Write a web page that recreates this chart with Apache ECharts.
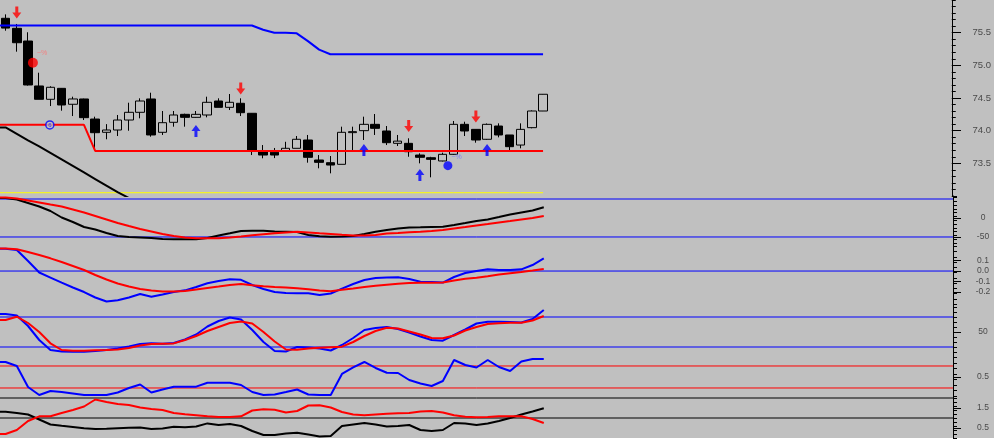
<!DOCTYPE html>
<html><head><meta charset="utf-8">
<script src="https://cdn.jsdelivr.net/npm/echarts@6/dist/echarts.min.js"></script>
<style>html,body{margin:0;padding:0;background:#fff}#c{width:994px;height:448px}</style>
</head><body><div id="c"></div>
<script>
// ---------- price panel data ----------
const opens  = [75.72,75.567,75.372,74.684,74.48,74.648,74.404,74.485,74.178,73.975,74.01,74.163,74.281,74.485,73.975,74.128,74.25,74.204,74.24,74.454,74.357,74.419,74.266,73.678,73.67,73.693,73.73,73.857,73.551,73.51,73.485,73.97,74.0,74.097,73.995,73.806,73.806,73.627,73.586,73.536,73.638,74.097,74.02,73.868,74.071,73.934,73.78,74.046,74.301];
const closes = [75.57,75.346,74.699,74.48,74.664,74.393,74.485,74.199,73.969,74.01,74.163,74.281,74.454,73.934,74.122,74.24,74.204,74.25,74.434,74.357,74.434,74.275,73.704,73.627,73.627,73.73,73.868,73.592,73.515,73.474,73.975,73.985,74.097,74.036,73.816,73.84,73.678,73.592,73.561,73.638,74.097,73.995,73.857,74.097,73.934,73.755,74.02,74.301,74.557];
const lows   = [75.53,75.209,74.69,74.48,74.377,74.306,74.224,74.163,73.73,73.868,73.918,73.999,74.189,73.908,73.934,74.061,74.061,74.2,74.204,74.357,74.316,74.224,73.627,73.577,73.58,73.69,73.73,73.51,73.424,73.347,73.485,73.704,73.857,73.934,73.78,73.765,73.601,73.5,73.286,73.53,73.63,73.918,73.816,73.86,73.898,73.704,73.73,74.036,74.3];
const highs  = [75.78,75.633,75.506,74.887,74.68,74.65,74.52,74.49,74.214,74.10,74.24,74.428,74.495,74.581,74.301,74.301,74.26,74.301,74.52,74.495,74.561,74.495,74.27,73.78,73.735,73.83,73.918,73.934,73.627,73.612,74.061,74.061,74.214,74.255,74.071,73.934,73.883,73.653,73.6,73.663,74.148,74.137,74.02,74.11,74.112,73.934,74.112,74.31,74.56];
const resistance = [75.61,75.61,75.61,75.61,75.61,75.61,75.61,75.61,75.61,75.61,75.61,75.61,75.61,75.61,75.61,75.61,75.61,75.61,75.61,75.61,75.61,75.61,75.61,75.545,75.5,75.5,75.49,75.37,75.24,75.17,75.17,75.17,75.17,75.17,75.17,75.17,75.17,75.17,75.17,75.17,75.17,75.17,75.17,75.17,75.17,75.17,75.17,75.17,75.17];
const support = [74.09,74.09,74.09,74.09,74.09,74.09,74.09,74.09,73.69,73.69,73.69,73.69,73.69,73.69,73.69,73.69,73.69,73.69,73.69,73.69,73.69,73.69,73.69,73.69,73.69,73.69,73.69,73.69,73.69,73.69,73.69,73.69,73.69,73.69,73.69,73.69,73.69,73.69,73.69,73.69,73.69,73.69,73.69,73.69,73.69,73.69,73.69,73.69,73.69];
const trendLine = [74.05,73.95,73.85,73.76,73.66,73.56,73.46,73.36,73.26,73.16,73.06,72.97,72.87];
const floorLine = [73.05,73.05,73.05,73.05,73.05,73.05,73.05,73.05,73.05,73.05,73.05,73.05,73.05,73.05,73.05,73.05,73.05,73.05,73.05,73.05,73.05,73.05,73.05,73.05,73.05,73.05,73.05,73.05,73.05,73.05,73.05,73.05,73.05,73.05,73.05,73.05,73.05,73.05,73.05,73.05,73.05,73.05,73.05,73.05,73.05,73.05,73.05,73.05,73.05];
const sellIdx = [1,21,36,42];
const sellPrice = [75.81,74.645,74.07,74.215];
const buyIdx = [17,32,37,43];
const buyPrice = [73.995,73.704,73.32,73.704];
const redBomb = [2.44,75.04];
const blueBomb = [39.5,73.464];
const blueRing = [3.95,74.087];

// ---------- indicator panels ----------
const oscBlack = [52.6,48.7,39.5,30.3,18.4,1.3,-10.5,-23.7,-30.3,-39.5,-47.4,-50,-51.3,-52.6,-55.3,-56.1,-56.1,-55.8,-52.6,-46.1,-40.3,-34.2,-33.4,-33.4,-35.5,-36.1,-36.8,-44.7,-48.2,-49.2,-48.7,-47.4,-42.1,-36.1,-31.6,-27.6,-25,-24.5,-23.7,-22.9,-18.4,-13.2,-7.9,-3.9,2.6,9.2,14.5,19.7,28.2];
const oscRed = [53.9,51.3,46.1,40.8,35.5,30.3,22.4,14.5,5.3,-3.9,-13.2,-21.1,-28.9,-35.5,-42.1,-47.4,-51.3,-53.4,-53.4,-53.4,-51.3,-48.7,-45.5,-42.9,-40.3,-38.2,-36.1,-38.2,-40.3,-42.1,-44.2,-46.1,-46.1,-44.7,-40.8,-39.5,-37.6,-36.1,-34.2,-31.6,-27.6,-23.7,-19.7,-15.8,-11.8,-7.9,-3.9,0,5.3];
const oscLevels = [50,-50];
const macdBlue = [0.213,0.2,0.095,-0.014,-0.062,-0.11,-0.157,-0.2,-0.252,-0.29,-0.279,-0.252,-0.219,-0.245,-0.224,-0.2,-0.184,-0.152,-0.116,-0.095,-0.079,-0.084,-0.133,-0.171,-0.2,-0.21,-0.212,-0.212,-0.229,-0.214,-0.167,-0.124,-0.086,-0.067,-0.062,-0.06,-0.076,-0.102,-0.105,-0.11,-0.057,-0.019,0,0.016,0.011,0.01,0.016,0.057,0.121];
const macdRed = [0.214,0.207,0.181,0.152,0.121,0.086,0.048,0.01,-0.038,-0.081,-0.119,-0.148,-0.171,-0.186,-0.195,-0.195,-0.19,-0.176,-0.162,-0.148,-0.133,-0.124,-0.136,-0.146,-0.152,-0.157,-0.165,-0.174,-0.186,-0.193,-0.179,-0.167,-0.152,-0.141,-0.13,-0.122,-0.114,-0.111,-0.111,-0.11,-0.091,-0.074,-0.064,-0.05,-0.034,-0.022,-0.01,0.004,0.019];
const macdLevels = [0];
const stochBlue = [86,83,62,34,14,11,10.6,10.6,12,14,17,21,26,27.4,26.4,28,35,45,61,72,79,75,54,30,12,11,20,19,17,13,24,38,54,58,60,56,49,41,34,32.6,44,55,67,70.6,70.6,70,69,76,94];
const stochRed = [74,80.6,68,50,27.4,14,12.6,12.6,13.4,14,15,18,23,26,26.6,27.2,34,42,52,60,68,71,67,50,31,15,14.4,17,18.4,19.6,20.6,30,42,52,58.4,57,51,45,38,37.4,43,53,60,66,67.6,68.6,68.6,73,82];
const stochLevels = [80,20];
const ratioBlue = [0.773,0.7,0.318,0.173,0.245,0.227,0.2,0.173,0.173,0.173,0.218,0.3,0.364,0.218,0.273,0.324,0.324,0.324,0.396,0.396,0.396,0.355,0.227,0.173,0.182,0.227,0.273,0.182,0.173,0.173,0.555,0.676,0.773,0.664,0.578,0.573,0.445,0.382,0.336,0.427,0.809,0.718,0.673,0.809,0.682,0.609,0.782,0.827,0.827];
const ratioLevels = [0.7,0.3];
const dirBlack = [1.31,1.25,1.175,0.925,0.675,0.61,0.55,0.49,0.45,0.465,0.49,0.51,0.53,0.45,0.475,0.565,0.535,0.575,0.73,0.65,0.7,0.6,0.35,0.15,0.15,0.225,0.265,0.175,0.075,0.1,0.6,0.675,0.75,0.675,0.575,0.6,0.65,0.4,0.35,0.4,0.75,0.725,0.65,0.725,0.85,1.0,1.175,1.325,1.485];
const dirRed = [0.2,0.4,0.85,1.085,1.085,1.25,1.4,1.575,1.925,1.8,1.7,1.65,1.525,1.45,1.4,1.25,1.185,1.135,1.085,1.05,1.05,1.085,1.375,1.435,1.415,1.275,1.35,1.625,1.635,1.525,1.3,1.175,1.135,1.175,1.21,1.235,1.25,1.325,1.35,1.275,1.135,1.06,1.035,1.05,1.085,1.085,1.085,0.95,0.75];
const dirLevels = [2.0,1.0];

// ---------- tick labels ----------
const priceTicks = ['73.5','74.0','74.5','75.0','75.5'];
const oscTicks = ['0','-50'];
const macdTicks = ['0.1','0.0','-0.1','-0.2'];
const stochTicks = ['50'];
const ratioTicks = ['0.5'];
const dirTicks = ['1.5','0.5'];

// ---------- layout ----------
const X_MIN = -0.5, X_MAX = 84.5;
// "alt" = labels drawn by the second axis so that closely packed labels are never dropped
const panels = [
  {top:0,   height:196, min:73.0,   max:76.0,   step:0.1,  ticks:priceTicks, alt:[],             font:9.5},
  {top:196, height:47,  min:-65.8,  max:57.9,   step:10,   ticks:oscTicks,   alt:[],             font:8.5},
  {top:243, height:61,  min:-0.314, max:0.267,  step:0.05, ticks:macdTicks,  alt:['0.0','-0.2'], font:8.5},
  {top:304, height:53,  min:0,      max:106,    step:10,   ticks:stochTicks, alt:[],             font:8.5},
  {top:357, height:39,  min:0.1545, max:0.8636, step:0.1,  ticks:ratioTicks, alt:[],             font:8.5},
  {top:396, height:42,  min:0,      max:2.1,    step:0.2,  ticks:dirTicks,   alt:[],             font:8.5}
];
const BG = '#c0c0c0', BLUE = '#0000ff', RED = '#ff0000', BLACK = '#000000';
const FONT = "'Liberation Sans', Arial, sans-serif";

function labelCfg(p, texts, margin){
  const vals = texts.map(Number);
  return {show:texts.length>0, customValues:vals, hideOverlap:false, margin, align:'center', inside:false,
    fontSize:p.font, color:'#4a4a4a', fontFamily:FONT,
    formatter:(v)=>{ const k = vals.findIndex(t=>Math.abs(t-v)<1e-6); return k>=0 ? texts[k] : ''; }};
}

const grids = [], xAxes = [], yAxes = [];
panels.forEach((p, g) => {
  grids.push({left:0, right:41, top:p.top, height:p.height, containLabel:false});
  xAxes.push({type:'value', gridIndex:g, min:X_MIN, max:X_MAX, show:false});
  const allVals = p.ticks.map(Number);
  const mainTexts = p.ticks.filter(t=>!p.alt.includes(t));
  yAxes.push({
    type:'value', gridIndex:g, position:'right', min:p.min, max:p.max, interval:p.step,
    axisLine:{show:true, onZero:false, lineStyle:{color:BLACK, width:1}},
    axisTick:{show:true, inside:false, length:4, lineStyle:{color:BLACK}},
    axisLabel:labelCfg(p, mainTexts, 30),
    splitLine:{show:false}
  });
  const alt = labelCfg(p, p.alt, 30);
  alt.inside = true;
  yAxes.push({
    type:'value', gridIndex:g, position:'left', offset:-953, min:p.min, max:p.max,
    axisLine:{show:false},
    axisTick:{show:true, inside:true, length:8, customValues:allVals, lineStyle:{color:BLACK}},
    axisLabel:alt, splitLine:{show:false}
  });
});

function xy(arr){
  const out = [[X_MIN, arr[0]]];
  arr.forEach((v,i)=>{ if (v!=null) out.push([i,v]); });
  return out;
}
function line(g, arr, color, width, z){
  return {type:'line', xAxisIndex:g, yAxisIndex:2*g, data:xy(arr), showSymbol:false, symbol:'none',
    lineStyle:{color, width}, itemStyle:{color}, z:z||3, silent:true, clip:true};
}
function levels(g, vals, color){
  return vals.map(v=>({type:'line', xAxisIndex:g, yAxisIndex:2*g, data:[[X_MIN,v],[X_MAX,v]],
    showSymbol:false, symbol:'none', silent:true, z:2,
    lineStyle:{color, width:1, type:'solid'}, itemStyle:{color}}));
}

const downArrow = 'path://M3,0L6,0L6,6L9,6L4.5,12L0,6L3,6Z';
const upArrow = 'path://M4.5,0L9,6L6,6L6,12L3,12L3,6L0,6Z';

const series = [
  {type:'candlestick', xAxisIndex:0, yAxisIndex:0, barWidth:9,
   data:opens.map((o,i)=>[i,o,closes[i],lows[i],highs[i]]),
   encode:{x:0, y:[1,2,3,4]},
   itemStyle:{color:BG, color0:BLACK, borderColor:BLACK, borderColor0:BLACK, borderWidth:1}, z:2},
  line(0, floorLine, '#ffff00', 1),
  line(0, trendLine, BLACK, 2),
  line(0, resistance, BLUE, 2),
  line(0, support, RED, 2),
  {type:'scatter', xAxisIndex:0, yAxisIndex:0, symbol:downArrow, symbolSize:[9,12], z:5,
   itemStyle:{color:RED}, data:sellIdx.map((x,i)=>[x, sellPrice[i]])},
  {type:'scatter', xAxisIndex:0, yAxisIndex:0, symbol:upArrow, symbolSize:[9,12], z:5,
   itemStyle:{color:BLUE}, data:buyIdx.map((x,i)=>[x, buyPrice[i]])},
  {type:'scatter', xAxisIndex:0, yAxisIndex:0, symbol:'circle', symbolSize:10, z:5,
   itemStyle:{color:RED}, data:[redBomb],
   label:{show:true, formatter:'~%', position:[9,-8], fontSize:7, color:'#ff7070', fontFamily:FONT}},
  {type:'scatter', xAxisIndex:0, yAxisIndex:0, symbol:'circle', symbolSize:9, z:5,
   itemStyle:{color:BLUE}, data:[blueBomb],
   label:{show:true, formatter:'~%', position:[8,-8], fontSize:7, color:'#7070ff', fontFamily:FONT}},
  {type:'scatter', xAxisIndex:0, yAxisIndex:0, symbol:'circle', symbolSize:8, z:5,
   itemStyle:{color:BG, borderColor:BLUE, borderWidth:1.5}, data:[blueRing],
   label:{show:true, formatter:'6', position:'inside', fontSize:6, color:BLUE, fontFamily:FONT}},
  ...levels(1, oscLevels, BLUE),
  line(1, oscBlack, BLACK, 2),
  line(1, oscRed, RED, 2),
  ...levels(2, macdLevels, BLUE),
  line(2, macdBlue, BLUE, 2),
  line(2, macdRed, RED, 2),
  ...levels(3, stochLevels, BLUE),
  line(3, stochBlue, BLUE, 2),
  line(3, stochRed, RED, 2),
  ...levels(4, ratioLevels, RED),
  line(4, ratioBlue, BLUE, 2),
  ...levels(5, dirLevels, BLACK),
  line(5, dirBlack, BLACK, 2),
  line(5, dirRed, RED, 2)
];

const chart = echarts.init(document.getElementById('c'), null, {renderer:'canvas'});
chart.setOption({
  animation:false,
  backgroundColor:'#ffffff',
  graphic:[{type:'rect', z:-10, silent:true, shape:{x:0, y:0, width:994, height:438}, style:{fill:BG}}],
  grid:grids, xAxis:xAxes, yAxis:yAxes, series
});
</script>
</body></html>
